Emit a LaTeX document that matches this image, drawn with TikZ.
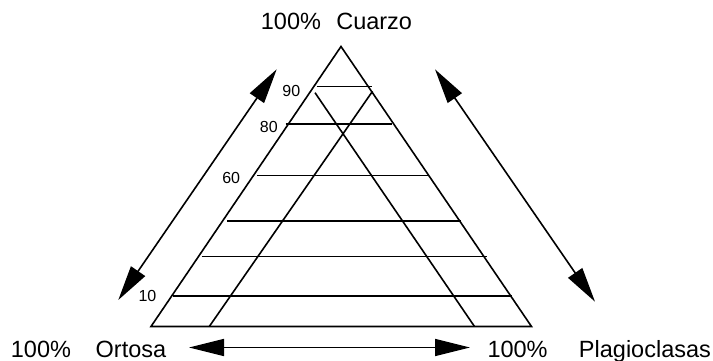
\documentclass[tikz,border=0pt]{standalone}
\usepackage{fontspec}
\setmainfont{Liberation Sans}
\usetikzlibrary{arrows.meta}
\begin{document}
\begin{tikzpicture}[x=1pt,y=-1pt,line width=1.6pt,
  >={Triangle[length=35pt,width=17pt]},
  title/.style={anchor=base west,inner sep=0pt,font=\fontsize{23.5}{28}\selectfont},
  pct/.style={inner sep=0pt,font=\fontsize{16}{19}\selectfont}]
\useasboundingbox (0,0) rectangle (713,361);
% triangle vertices
\coordinate (A) at (341,46.5);
\coordinate (L) at (151,326.5);
\coordinate (R) at (531.5,326.5);
\draw[line join=miter] (A) -- (L) -- (R) -- cycle;
% horizontal lines
\draw (316.7,86.7) -- (371.7,86.7);
\draw (285.7,124.3) -- (391.7,124.3);
\draw (257,175.5) -- (429.3,175.5);
\draw (227.3,221) -- (460.7,221);
\draw (201.7,256.5) -- (487,256.5);
\draw (173.3,296) -- (511.7,296);
% inner slanted lines
\draw (315,92.7) -- (474.5,326.5);
\draw (372.5,91.3) -- (209.3,326.5);
% labels
\node[pct] (n90) at (291.3,90.8) {90};
\node[pct] (n80) at (268.8,127.2) {80};
\node[pct] (n60) at (231.2,178) {60};
\node[pct] (n10) at (147.5,295.8) {10};
% titles
\node[title] (cuarzo) at (260.1,30) {100\%\hspace{15.3pt}Cuarzo};
\node[title] (ortosa) at (10.1,357.3) {100\%\hspace{24.7pt}Ortosa};
\node[title] (plagio) at (486.7,357.3) {100\%\hspace{31.4pt}Plagioclasas};
% arrows
\coordinate (bl) at (189,347.5);
\coordinate (br) at (470,347.5);
\coordinate (lu) at (276.7,69.3);
\coordinate (ll) at (118.3,300);
\coordinate (ru) at (435,69.3);
\coordinate (rl) at (595,301.7);
\draw[<->] (bl) -- (br);
\draw[<->] (lu) -- (ll);
\draw[<->] (ru) -- (rl);
\end{tikzpicture}
\end{document}
